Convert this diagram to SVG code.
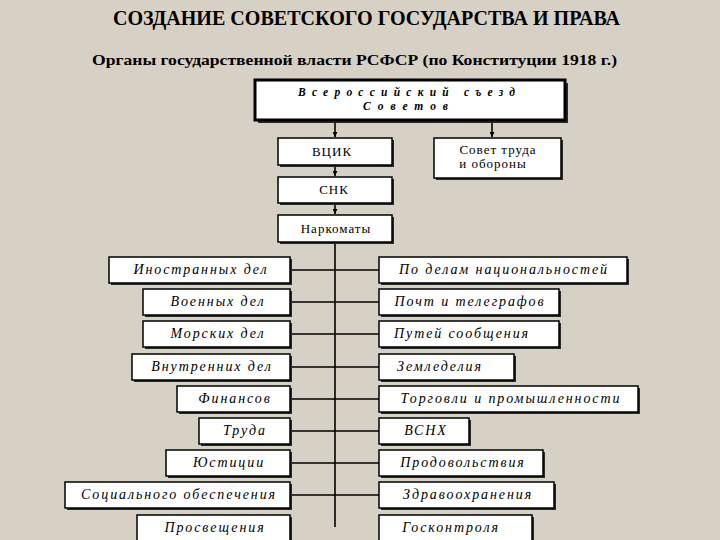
<svg xmlns="http://www.w3.org/2000/svg" width="720" height="540" viewBox="0 0 720 540">
<defs>
<style>
.bg{fill:#d7d0c4}
.sh{fill:#2a2a2a}
.bx{fill:#ffffff;stroke:#000;stroke-width:1.5}
.bxt{fill:#ffffff;stroke:#000;stroke-width:3}
.ln{stroke:#000;stroke-width:1.6;fill:none}
.title{font-family:"Liberation Serif","Times New Roman",serif;font-weight:bold;font-size:20px;fill:#000}
.sub{font-family:"Liberation Serif","Times New Roman",serif;font-weight:bold;font-size:14px;fill:#000}
.top{font-family:"Liberation Serif","Times New Roman",serif;font-weight:bold;font-style:italic;font-size:11.5px;fill:#000}
.n{font-family:"Liberation Serif","Times New Roman",serif;font-size:13px;fill:#000;text-anchor:middle;letter-spacing:1px}
.it{font-family:"Liberation Serif","Times New Roman",serif;font-style:italic;font-size:14px;fill:#000;text-anchor:middle;letter-spacing:1.9px}
</style>
<marker id="ah" viewBox="0 0 10 10" refX="10" refY="5" markerWidth="5" markerHeight="5" orient="auto" markerUnits="userSpaceOnUse">
<path d="M0,0 L10,5 L0,10 z" fill="#000"/>
</marker>
</defs>
<rect class="bg" x="0" y="0" width="720" height="540"/>
<text class="title" x="113" y="25" textLength="507" lengthAdjust="spacingAndGlyphs">СОЗДАНИЕ СОВЕТСКОГО ГОСУДАРСТВА И ПРАВА</text>
<text class="sub" x="92" y="65" textLength="525" lengthAdjust="spacingAndGlyphs">Органы государственной власти РСФСР (по Конституции 1918 г.)</text>

<g id="connectors">
<line class="ln" x1="335" y1="121" x2="335" y2="137" marker-end="url(#ah)"/>
<line class="ln" x1="492" y1="121" x2="492" y2="137" marker-end="url(#ah)"/>
<line class="ln" x1="335" y1="166" x2="335" y2="176" marker-end="url(#ah)"/>
<line class="ln" x1="335" y1="204" x2="335" y2="214" marker-end="url(#ah)"/>
<line class="ln" x1="335" y1="243" x2="335" y2="527"/>
<line class="ln" x1="290" y1="270" x2="379" y2="270"/>
<line class="ln" x1="290" y1="302" x2="379" y2="302"/>
<line class="ln" x1="290" y1="334" x2="379" y2="334"/>
<line class="ln" x1="290" y1="367" x2="379" y2="367"/>
<line class="ln" x1="290" y1="399" x2="379" y2="399"/>
<line class="ln" x1="290" y1="431" x2="379" y2="431"/>
<line class="ln" x1="290" y1="463" x2="379" y2="463"/>
<line class="ln" x1="290" y1="495" x2="379" y2="495"/>
</g>

<g id="congress">
<rect class="sh" x="258" y="83" width="310" height="40"/>
<rect class="bxt" x="255" y="80" width="310" height="40"/>
<text class="top" x="298" y="96" textLength="217" lengthAdjust="spacing">Всероссийский съезд</text>
<text class="top" x="363" y="110" textLength="85" lengthAdjust="spacing">Советов</text>
</g>
<g id="vcik">
<rect class="sh" x="280" y="140" width="114" height="27"/>
<rect class="bx" x="278" y="138" width="114" height="27"/>
<text class="n" x="332" y="156" letter-spacing="2">ВЦИК</text>
</g>
<g id="stoa">
<rect class="sh" x="436" y="140" width="127" height="40"/>
<rect class="bx" x="434" y="138" width="127" height="40"/>
<text class="n" x="498" y="154">Совет труда</text>
<text class="n" x="493" y="168">и обороны</text>
</g>
<g id="snk">
<rect class="sh" x="280" y="179" width="114" height="26"/>
<rect class="bx" x="278" y="177" width="114" height="26"/>
<text class="n" x="334" y="194" letter-spacing="1.5">СНК</text>
</g>
<g id="narkomaty">
<rect class="sh" x="280" y="217" width="114" height="27"/>
<rect class="bx" x="278" y="215" width="114" height="27"/>
<text class="n" x="336" y="233">Наркоматы</text>
</g>

<g id="l1"><rect class="sh" x="111" y="259" width="181" height="26"/><rect class="bx" x="109" y="257" width="181" height="26"/><text class="it" x="201" y="274">Иностранных дел</text></g>
<g id="l2"><rect class="sh" x="145" y="291" width="147" height="26"/><rect class="bx" x="143" y="289" width="147" height="26"/><text class="it" x="218" y="306">Военных дел</text></g>
<g id="l3"><rect class="sh" x="145" y="323" width="147" height="26"/><rect class="bx" x="143" y="321" width="147" height="26"/><text class="it" x="218" y="338">Морских дел</text></g>
<g id="l4"><rect class="sh" x="134" y="356" width="158" height="26"/><rect class="bx" x="132" y="354" width="158" height="26"/><text class="it" x="212" y="371">Внутренних дел</text></g>
<g id="l5"><rect class="sh" x="179" y="388" width="113" height="26"/><rect class="bx" x="177" y="386" width="113" height="26"/><text class="it" x="235" y="403">Финансов</text></g>
<g id="l6"><rect class="sh" x="201" y="420" width="91" height="26"/><rect class="bx" x="199" y="418" width="91" height="26"/><text class="it" x="245" y="435">Труда</text></g>
<g id="l7"><rect class="sh" x="168" y="452" width="124" height="26"/><rect class="bx" x="166" y="450" width="124" height="26"/><text class="it" x="229" y="467">Юстиции</text></g>
<g id="l8"><rect class="sh" x="67" y="484" width="225" height="26"/><rect class="bx" x="65" y="482" width="225" height="26"/><text class="it" x="179" y="499">Социального обеспечения</text></g>
<g id="l9"><rect class="sh" x="139" y="517" width="153" height="26"/><rect class="bx" x="137" y="515" width="153" height="26"/><text class="it" x="215" y="532">Просвещения</text></g>

<g id="r1"><rect class="sh" x="381" y="259" width="248" height="26"/><rect class="bx" x="379" y="257" width="248" height="26"/><text class="it" x="504" y="274">По делам национальностей</text></g>
<g id="r2"><rect class="sh" x="381" y="291" width="180" height="26"/><rect class="bx" x="379" y="289" width="180" height="26"/><text class="it" x="470" y="306">Почт и телеграфов</text></g>
<g id="r3"><rect class="sh" x="381" y="323" width="180" height="26"/><rect class="bx" x="379" y="321" width="180" height="26"/><text class="it" x="462" y="338">Путей сообщения</text></g>
<g id="r4"><rect class="sh" x="381" y="356" width="135" height="26"/><rect class="bx" x="379" y="354" width="135" height="26"/><text class="it" x="440" y="371">Земледелия</text></g>
<g id="r5"><rect class="sh" x="381" y="388" width="259" height="26"/><rect class="bx" x="379" y="386" width="259" height="26"/><text class="it" x="511" y="403">Торговли и промышленности</text></g>
<g id="r6"><rect class="sh" x="381" y="420" width="90" height="26"/><rect class="bx" x="379" y="418" width="90" height="26"/><text class="it" x="426" y="435">ВСНХ</text></g>
<g id="r7"><rect class="sh" x="381" y="452" width="164" height="26"/><rect class="bx" x="379" y="450" width="164" height="26"/><text class="it" x="463" y="467">Продовольствия</text></g>
<g id="r8"><rect class="sh" x="381" y="484" width="175" height="26"/><rect class="bx" x="379" y="482" width="175" height="26"/><text class="it" x="468" y="499">Здравоохранения</text></g>
<g id="r9"><rect class="sh" x="381" y="517" width="153" height="26"/><rect class="bx" x="379" y="515" width="153" height="26"/><text class="it" x="451" y="532">Госконтроля</text></g>
</svg>
